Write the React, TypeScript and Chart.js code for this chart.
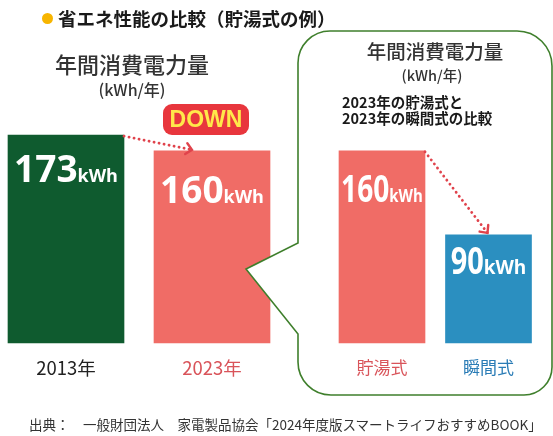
import React, { useEffect, useRef } from 'react';
import { Chart, registerables } from 'chart.js';

Chart.register(...registerables);

// ---- data ----
const yearCategories = ['2013年', '2023年'];
const yearValues = [173, 160];
const typeCategories = ['貯湯式', '瞬間式'];
const typeValues = [160, 90];
const valueUnit = 'kWh';
const yMax = 200;

// ---- styles ----
const yearBarColors = ['#0f5b2f', '#f06c66'];
const yearLabelColors = ['#222222', '#d9545a'];
const typeBarColors = ['#f06c66', '#2b8fc0'];
const typeLabelColors = ['#d9545a', '#2a7cb6'];
const ARROW = '#e0434c';
const JP = "'Noto Sans CJK JP', 'Noto Sans', sans-serif";
const NUM = "'Open Sans', 'DejaVu Sans', sans-serif";

const valueLabelPlugin = {
  id: 'valueLabels',
  afterDatasetsDraw(chart: any, _args: any, opts: any) {
    const ctx = chart.ctx;
    const meta = chart.getDatasetMeta(0);
    const values = chart.data.datasets[0].data;
    meta.data.forEach((bar: any, i: number) => {
      const { x, y } = bar.getProps(['x', 'y'], true);
      const st = opts.styles[i];
      const numStr = String(values[i]);
      ctx.save();
      const numFont = `bold ${st.numSize}px ${NUM}`;
      const unitFont = `bold ${st.unitSize}px ${NUM}`;
      ctx.font = numFont;
      const nw = ctx.measureText(numStr).width * st.numScale;
      ctx.font = unitFont;
      const uw = ctx.measureText(valueUnit).width * st.unitScale;
      const left = x - (nw + uw) / 2;
      const base = y + st.offset;
      ctx.fillStyle = '#ffffff';
      ctx.textAlign = 'left';
      ctx.textBaseline = 'alphabetic';
      ctx.save();
      ctx.translate(left, base);
      ctx.scale(st.numScale, 1);
      ctx.font = numFont;
      ctx.fillText(numStr, 0, 0);
      ctx.restore();
      ctx.save();
      ctx.translate(left + nw, base);
      ctx.scale(st.unitScale, 1);
      ctx.font = unitFont;
      ctx.fillText(valueUnit, 0, 0);
      ctx.restore();
      ctx.restore();
    });
  },
};

const arrowPlugin = {
  id: 'dotArrow',
  afterDatasetsDraw(chart: any, _args: any, opts: any) {
    const meta = chart.getDatasetMeta(0);
    const a = meta.data[0].getProps(['x', 'y', 'width'], true);
    const b = meta.data[1].getProps(['x', 'y', 'width'], true);
    const x1 = a.x + a.width / 2 + opts.startDx;
    const y1 = a.y + opts.startDy;
    const x2 = b.x + opts.endDx;
    const y2 = b.y + opts.endDy;
    const ctx = chart.ctx;
    ctx.save();
    ctx.strokeStyle = ARROW;
    ctx.lineCap = 'round';
    ctx.lineWidth = 2.8;
    ctx.setLineDash([0.1, 5]);
    ctx.beginPath();
    ctx.moveTo(x1, y1);
    ctx.lineTo(x2, y2);
    ctx.stroke();
    ctx.setLineDash([]);
    ctx.lineWidth = 2.4;
    const ang = Math.atan2(y2 - y1, x2 - x1);
    const L = 8;
    ctx.beginPath();
    ctx.moveTo(x2 - L * Math.cos(ang - 0.75), y2 - L * Math.sin(ang - 0.75));
    ctx.lineTo(x2, y2);
    ctx.lineTo(x2 - L * Math.cos(ang + 0.75), y2 - L * Math.sin(ang + 0.75));
    ctx.stroke();
    ctx.restore();
  },
};

function makeConfig(
  labels: string[],
  values: number[],
  barColors: string[],
  labelColors: string[],
  thickness: number,
  padL: number,
  padR: number,
  labelSize: number,
  styles: any[],
  arrow: any
): any {
  return {
    type: 'bar',
    data: {
      labels,
      datasets: [
        {
          data: values,
          backgroundColor: barColors,
          borderWidth: 0,
          barThickness: thickness,
          clip: false,
        },
      ],
    },
    options: {
      responsive: false,
      animation: false,
      layout: { padding: { top: 102.75, bottom: 45.8 - (labelSize - 16) * 1.2, left: padL, right: padR } },
      plugins: {
        legend: { display: false },
        tooltip: { enabled: false },
        valueLabels: { styles },
        dotArrow: arrow,
      },
      scales: {
        x: {
          offset: false,
          grid: { display: false, drawTicks: false },
          border: { display: false },
          ticks: {
            padding: 14,
            color: (c: any) => labelColors[c.index],
            font: { family: JP, size: labelSize },
            autoSkip: false,
            maxRotation: 0,
          },
        },
        y: { display: false, min: 0, max: yMax },
      },
    },
    plugins: [valueLabelPlugin, arrowPlugin],
  };
}

export default function App() {
  const leftRef = useRef<HTMLCanvasElement>(null);
  const rightRef = useRef<HTMLCanvasElement>(null);

  useEffect(() => {
    const left = new Chart(
      leftRef.current as HTMLCanvasElement,
      makeConfig(
        yearCategories,
        yearValues,
        yearBarColors,
        yearLabelColors,
        116,
        66,
        78,
        18.5,
        [
          { numSize: 37, unitSize: 18, numScale: 1, unitScale: 1, offset: 47 },
          { numSize: 37, unitSize: 18, numScale: 1, unitScale: 1, offset: 52 },
        ],
        { startDx: 0, startDy: 1, endDx: -20, endDy: -1 }
      )
    );
    const right = new Chart(
      rightRef.current as HTMLCanvasElement,
      makeConfig(
        typeCategories,
        typeValues,
        typeBarColors,
        typeLabelColors,
        86,
        92,
        64.5,
        17,
        [
          { numSize: 37, unitSize: 17, numScale: 0.76, unitScale: 0.88, offset: 51 },
          { numSize: 38, unitSize: 19, numScale: 0.76, unitScale: 1, offset: 39 },
        ],
        { startDx: 0, startDy: 1, endDx: -1, endDy: -2 }
      )
    );
    return () => {
      left.destroy();
      right.destroy();
    };
  }, []);

  const abs = (s: React.CSSProperties): React.CSSProperties => ({ position: 'absolute', ...s });

  return (
    <div style={abs({ left: 0, top: 0, width: 553, height: 436, background: '#fff', overflow: 'hidden', fontFamily: JP })}>
      <canvas ref={leftRef} width={290} height={436} style={abs({ left: 0, top: 0 })} />
      <svg width={553} height={436} style={abs({ left: 0, top: 0 })}>
        <path
          d="M 330 31 H 517 A 35 35 0 0 1 552 66 V 367 A 28 28 0 0 1 524 395 H 331 A 33 33 0 0 1 298 362 V 334 L 246 269 L 298 243 V 63 A 32 32 0 0 1 330 31 Z"
          fill="#ffffff"
          stroke="#3f7f2c"
          strokeWidth={1.6}
        />
      </svg>
      <canvas ref={rightRef} width={263} height={436} style={abs({ left: 290, top: 0 })} />

      {/* title */}
      <div style={abs({ left: 42, top: 12.5, width: 11, height: 11, borderRadius: '50%', background: '#f7b500' })} />
      <div style={abs({ left: 58, top: 6, fontSize: 18.5, fontWeight: 700, color: '#1a1a1a', whiteSpace: 'nowrap', lineHeight: '24px' })}>
        省エネ性能の比較（貯湯式の例）
      </div>

      {/* left heading */}
      <div style={abs({ left: 32, width: 200, top: 50, textAlign: 'center', fontSize: 22, fontWeight: 500, color: '#333', lineHeight: '26px', whiteSpace: 'nowrap' })}>
        年間消費電力量
      </div>
      <div style={abs({ left: 32, width: 200, top: 79, textAlign: 'center', fontSize: 16, fontWeight: 500, color: '#333', lineHeight: '20px', whiteSpace: 'nowrap' })}>
        (kWh/年)
      </div>

      {/* DOWN badge */}
      <div
        style={abs({
          left: 163,
          top: 104,
          width: 86,
          height: 31,
          borderRadius: 9,
          background: '#e8363d',
          color: '#ffe84a',
          fontFamily: "'Liberation Sans', Arial, sans-serif",
          fontWeight: 700,
          fontSize: 23,
          lineHeight: '31px',
          textAlign: 'center',
        })}
      >
        DOWN
      </div>

      {/* right heading */}
      <div style={abs({ left: 335, width: 200, top: 39, textAlign: 'center', fontSize: 19.5, fontWeight: 500, color: '#333', lineHeight: '24px', whiteSpace: 'nowrap' })}>
        年間消費電力量
      </div>
      <div style={abs({ left: 332, width: 200, top: 66, textAlign: 'center', fontSize: 14.5, fontWeight: 500, color: '#333', lineHeight: '18px', whiteSpace: 'nowrap' })}>
        (kWh/年)
      </div>
      <div style={abs({ left: 342, top: 94, fontSize: 14.5, fontWeight: 700, color: '#1a1a1a', lineHeight: '15.5px', whiteSpace: 'nowrap' })}>
        2023年の貯湯式と
        <br />
        2023年の瞬間式の比較
      </div>

      {/* footer */}
      <div style={abs({ left: 29, top: 415, fontSize: 13.5, color: '#333', lineHeight: '18px', whiteSpace: 'nowrap' })}>
        出典：　一般財団法人　家電製品協会「2024年度版スマートライフおすすめBOOK」
      </div>
    </div>
  );
}
